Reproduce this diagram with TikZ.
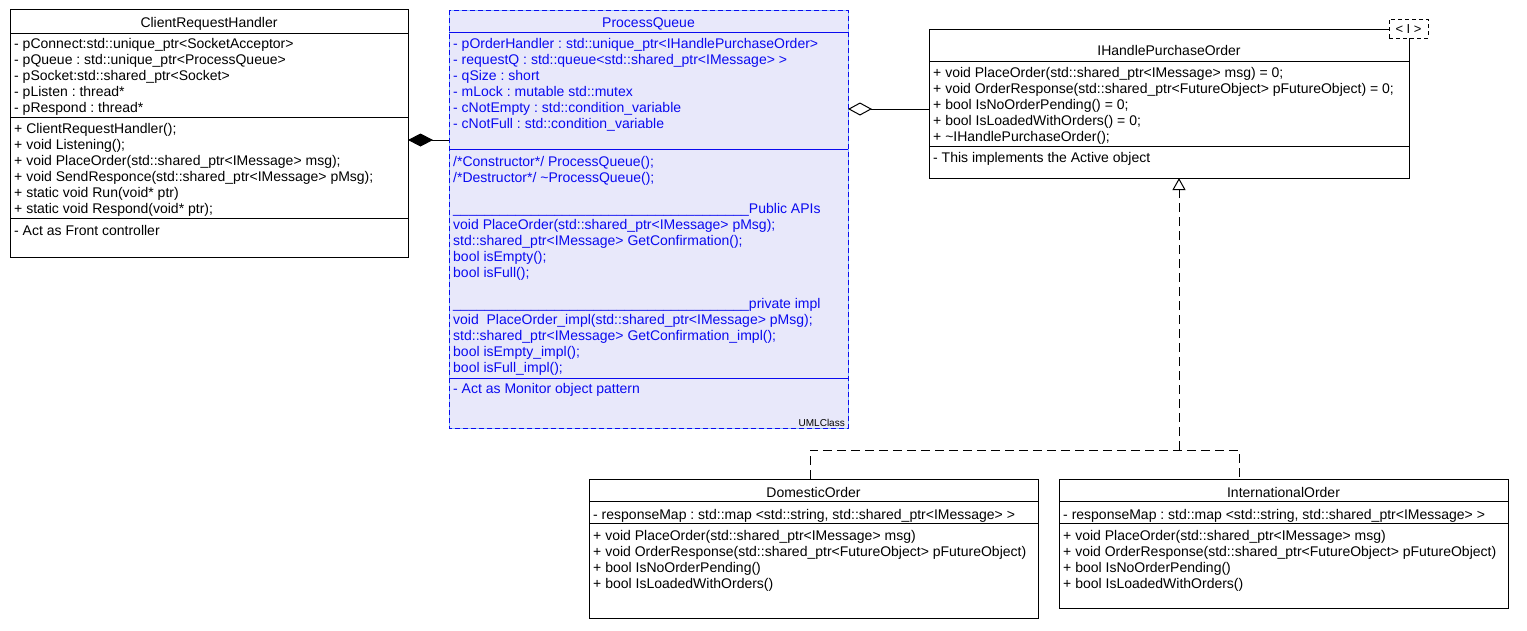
\documentclass[tikz,border=0pt]{standalone}
\usepackage{fontspec}
\setmainfont{Liberation Sans}
\usetikzlibrary{arrows.meta}
\definecolor{pqfill}{RGB}{232,232,250}
\definecolor{pqblue}{RGB}{10,10,240}
\definecolor{pqedge}{RGB}{140,195,255}
\frenchspacing
\newcommand{\umlfont}{\fontsize{14}{16}\selectfont\frenchspacing}
\newcommand{\umlsep}[3][black]{\draw[#1, line width=1pt] ([yshift=-#3pt]#2.north west) -- ([yshift=-#3pt]#2.north east);}
\begin{document}
\begin{tikzpicture}[x=1pt,y=-1pt,
  classbox/.style={draw=black, line width=1pt, fill=white, anchor=north west, inner sep=0pt, outer sep=0pt},
  ln/.style={anchor=base west, inner sep=0pt, font=\umlfont},
  ttl/.style={anchor=base, inner sep=0pt, font=\umlfont},
  pqt/.style={text=pqblue},
  dashline/.style={line width=1pt, dash pattern=on 9pt off 5pt},
  conn/.style={line width=1pt}
]
\useasboundingbox (0,0) rectangle (1527,630);

% ---------- ClientRequestHandler
\node[classbox, minimum width=398pt, minimum height=248pt] (crh) at (10,9) {};
\umlsep{crh}{24}
\umlsep{crh}{108.3}
\umlsep{crh}{209.7}
\node[ttl] (crh-t) at (209,27.5) {ClientRequestHandler};
\node[ln] (crh-a1) at (14,48) {- pConnect:std::unique\_ptr<SocketAcceptor>};
\node[ln] (crh-a2) at (14,64) {- pQueue : std::unique\_ptr<ProcessQueue>};
\node[ln] (crh-a3) at (14,80) {- pSocket:std::shared\_ptr<Socket>};
\node[ln] (crh-a4) at (14,96) {- pListen : thread*};
\node[ln] (crh-a5) at (14,112) {- pRespond : thread*};
\node[ln] (crh-m1) at (14,133) {+ ClientRequestHandler();};
\node[ln] (crh-m2) at (14,149) {+ void Listening();};
\node[ln] (crh-m3) at (14,165) {+ void PlaceOrder(std::shared\_ptr<IMessage> msg);};
\node[ln] (crh-m4) at (14,181) {+ void SendResponce(std::shared\_ptr<IMessage> pMsg);};
\node[ln] (crh-m5) at (14,197) {+ static void Run(void* ptr)};
\node[ln] (crh-m6) at (14,213) {+ static void Respond(void* ptr);};
\node[ln] (crh-n1) at (14,235) {- Act as Front controller};

% ---------- ProcessQueue
\node[classbox, draw=pqedge, fill=pqfill, minimum width=399pt, minimum height=418pt] (pq) at (449,10) {};
\draw[pqblue, line width=1pt, dash pattern=on 5pt off 3pt] (pq.north west) rectangle (pq.south east);
\umlsep[pqblue]{pq}{22.3}
\umlsep[pqblue]{pq}{139.3}
\umlsep[pqblue]{pq}{368.7}
\node[ttl, pqt] (pq-t) at (648.5,27.5) {ProcessQueue};
\node[ln, pqt] (pq-a1) at (453,48) {- pOrderHandler : std::unique\_ptr<IHandlePurchaseOrder>};
\node[ln, pqt] (pq-a2) at (453,64) {- requestQ : std::queue<std::shared\_ptr<IMessage> >};
\node[ln, pqt] (pq-a3) at (453,80) {- qSize : short};
\node[ln, pqt] (pq-a4) at (453,96) {- mLock : mutable std::mutex};
\node[ln, pqt] (pq-a5) at (453,112) {- cNotEmpty : std::condition\_variable};
\node[ln, pqt] (pq-a6) at (453,128) {- cNotFull : std::condition\_variable};
\node[ln, pqt] (pq-m1) at (453,166) {/*Constructor*/ ProcessQueue();};
\node[ln, pqt] (pq-m2) at (453,182) {/*Destructor*/ \textasciitilde ProcessQueue();};
\node[ln, pqt] (pq-h1) at (453,213) {\_\_\_\_\_\_\_\_\_\_\_\_\_\_\_\_\_\_\_\_\_\_\_\_\_\_\_\_\_\_\_\_\_\_\_\_\_\_Public APIs};
\node[ln, pqt] (pq-m3) at (453,229) {void PlaceOrder(std::shared\_ptr<IMessage> pMsg);};
\node[ln, pqt] (pq-m4) at (453,245.5) {std::shared\_ptr<IMessage> GetConfirmation();};
\node[ln, pqt] (pq-m5) at (453,261.5) {bool isEmpty();};
\node[ln, pqt] (pq-m6) at (453,277.5) {bool isFull();};
\node[ln, pqt] (pq-h2) at (453,308.5) {\_\_\_\_\_\_\_\_\_\_\_\_\_\_\_\_\_\_\_\_\_\_\_\_\_\_\_\_\_\_\_\_\_\_\_\_\_\_private impl};
\node[ln, pqt] (pq-m7) at (453,324) {void\ \ PlaceOrder\_impl(std::shared\_ptr<IMessage> pMsg);};
\node[ln, pqt] (pq-m8) at (453,340) {std::shared\_ptr<IMessage> GetConfirmation\_impl();};
\node[ln, pqt] (pq-m9) at (453,356.5) {bool isEmpty\_impl();};
\node[ln, pqt] (pq-m10) at (453,372.5) {bool isFull\_impl();};
\node[ln, pqt] (pq-n1) at (453,393) {- Act as Monitor object pattern};
\node[anchor=base east, inner sep=0pt, font=\fontsize{10}{12}\selectfont] (pq-uml) at (845,426) {UMLClass};

% ---------- IHandlePurchaseOrder
\node[classbox, minimum width=480pt, minimum height=149pt] (ihpo) at (929,29) {};
\umlsep{ihpo}{32}
\umlsep{ihpo}{117}
\node[ttl] (ihpo-t) at (1169,55) {IHandlePurchaseOrder};
\node[ln] (ihpo-m1) at (933,77) {+ void PlaceOrder(std::shared\_ptr<IMessage> msg) = 0;};
\node[ln] (ihpo-m2) at (933,93) {+ void OrderResponse(std::shared\_ptr<FutureObject> pFutureObject) = 0;};
\node[ln] (ihpo-m3) at (933,109) {+ bool IsNoOrderPending() = 0;};
\node[ln] (ihpo-m4) at (933,125) {+ bool IsLoadedWithOrders() = 0;};
\node[ln] (ihpo-m5) at (933,141) {+ \textasciitilde IHandlePurchaseOrder();};
\node[ln] (ihpo-n1) at (933,162) {- This implements the Active object};
\node[draw=black, fill=white, line width=1pt, dash pattern=on 4pt off 3pt, anchor=north west, inner sep=0pt, outer sep=0pt, minimum width=39pt, minimum height=19pt] (stereo) at (1389,19) {};
\node[anchor=base, inner sep=0pt, font=\fontsize{13}{14}\selectfont] (stereo-t) at (1408.5,33.5) {< I >};

% ---------- DomesticOrder
\node[classbox, minimum width=449pt, minimum height=139pt] (dom) at (589,479) {};
\umlsep{dom}{22.5}
\umlsep{dom}{44}
\node[ttl] (dom-t) at (813.5,497.5) {DomesticOrder};
\node[ln] (dom-a1) at (593,519) {- responseMap : std::map <std::string, std::shared\_ptr<IMessage> >};
\node[ln] (dom-m1) at (593,540) {+ void PlaceOrder(std::shared\_ptr<IMessage> msg)};
\node[ln] (dom-m2) at (593,556) {+ void OrderResponse(std::shared\_ptr<FutureObject> pFutureObject)};
\node[ln] (dom-m3) at (593,572) {+ bool IsNoOrderPending()};
\node[ln] (dom-m4) at (593,588) {+ bool IsLoadedWithOrders()};

% ---------- InternationalOrder
\node[classbox, minimum width=449pt, minimum height=129pt] (intl) at (1059,479) {};
\umlsep{intl}{22.5}
\umlsep{intl}{44}
\node[ttl] (intl-t) at (1283.5,497.5) {InternationalOrder};
\node[ln] (intl-a1) at (1063,519) {- responseMap : std::map <std::string, std::shared\_ptr<IMessage> >};
\node[ln] (intl-m1) at (1063,540) {+ void PlaceOrder(std::shared\_ptr<IMessage> msg)};
\node[ln] (intl-m2) at (1063,556) {+ void OrderResponse(std::shared\_ptr<FutureObject> pFutureObject)};
\node[ln] (intl-m3) at (1063,572) {+ bool IsNoOrderPending()};
\node[ln] (intl-m4) at (1063,588) {+ bool IsLoadedWithOrders()};

% ---------- connectors
\coordinate (compy) at (0,140);
\coordinate (aggy) at (0,109);
\coordinate (busy) at (0,450);
\coordinate (dtop) at ([xshift=221pt]dom.north west);
\coordinate (itop) at ([xshift=180pt]intl.north west);
\coordinate (ibot) at ([xshift=10pt]ihpo.south);

\draw[conn, {Diamond[length=25pt,width=13pt,fill=black]}-] (crh.east |- compy) -- (pq.west |- compy);
\draw[conn, {Diamond[open,fill=white,length=24pt,width=13pt]}-] (pq.east |- aggy) -- (ihpo.west |- aggy);
\draw[dashline] (dtop) -- (dtop |- busy) -- (itop |- busy) -- (itop);
\draw[dashline, -{Triangle[open,fill=white,length=12pt,width=13pt]}] (ibot |- busy) -- (ibot);
\end{tikzpicture}
\end{document}
